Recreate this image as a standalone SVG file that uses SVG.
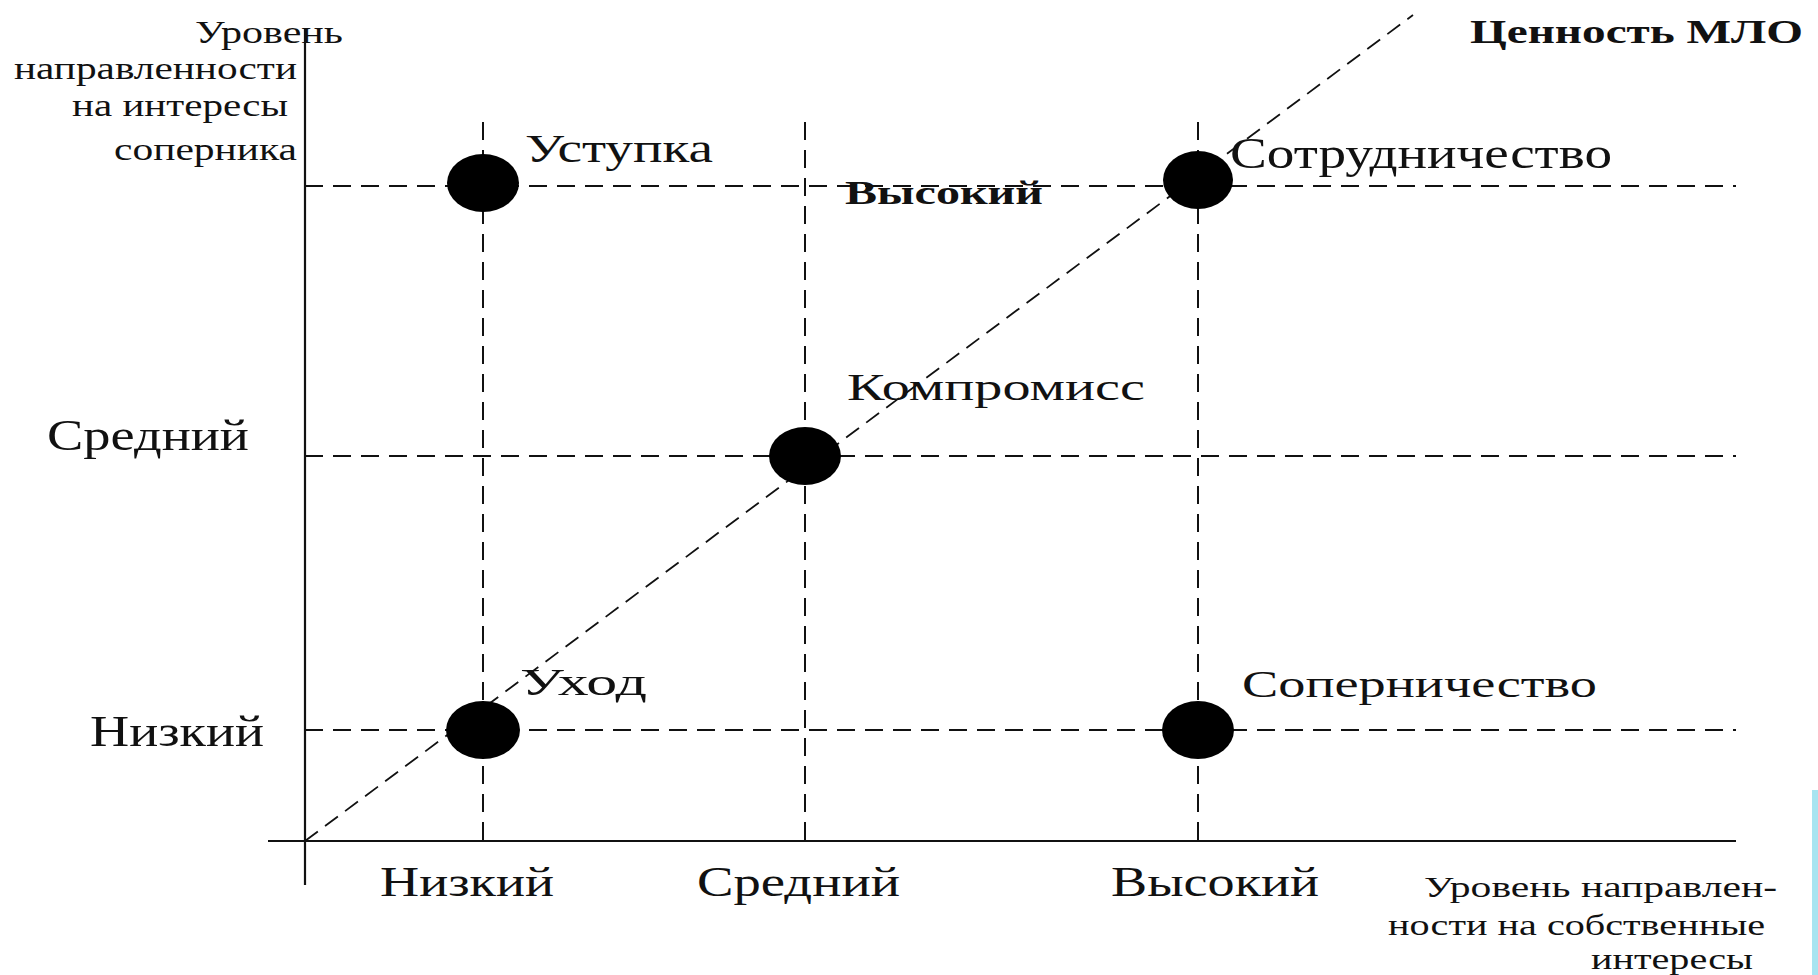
<svg xmlns="http://www.w3.org/2000/svg" width="1818" height="975" viewBox="0 0 1818 975">
<style>
.bg{fill:#ffffff}
.axis{stroke:#111;stroke-width:2.2;fill:none}
.grid{stroke:#111;stroke-width:2;stroke-dasharray:18 10;fill:none}
.diag{stroke:#111;stroke-width:1.8;stroke-dasharray:16 9;fill:none}
.dot{fill:#000}
.t{font-family:"Liberation Serif","Times New Roman",serif;fill:#111}
.b{font-weight:bold}
</style>
<rect class="bg" x="0" y="0" width="1818" height="975"/>
<rect x="1812" y="790" width="6" height="185" fill="#a8e4f0"/>
<g id="connectors">
  <line class="grid" x1="305" y1="186" x2="1736" y2="186"/>
  <line class="grid" x1="305" y1="456" x2="1736" y2="456"/>
  <line class="grid" x1="305" y1="730" x2="1736" y2="730"/>
  <line class="grid" x1="483" y1="122" x2="483" y2="840"/>
  <line class="grid" x1="805" y1="122" x2="805" y2="840"/>
  <line class="grid" x1="1198" y1="122" x2="1198" y2="840"/>
  <line class="diag" x1="305" y1="841" x2="1413" y2="15"/>
  <line class="axis" x1="305" y1="28" x2="305" y2="885"/>
  <line class="axis" x1="268" y1="841" x2="1736" y2="841"/>
</g>
<g id="axis-y-label">
  <text class="t" x="195" y="43" font-size="31" textLength="148" lengthAdjust="spacingAndGlyphs">Уровень</text>
  <text class="t" x="14" y="79" font-size="31" textLength="283" lengthAdjust="spacingAndGlyphs">направленности</text>
  <text class="t" x="72" y="116" font-size="31" textLength="216" lengthAdjust="spacingAndGlyphs">на интересы</text>
  <text class="t" x="114" y="160" font-size="31" textLength="183" lengthAdjust="spacingAndGlyphs">соперника</text>
</g>
<g id="axis-x-label">
  <text class="t" x="1424" y="897" font-size="30" textLength="353" lengthAdjust="spacingAndGlyphs">Уровень направлен-</text>
  <text class="t" x="1388" y="935" font-size="30" textLength="377" lengthAdjust="spacingAndGlyphs">ности на собственные</text>
  <text class="t" x="1591" y="969" font-size="30" textLength="162" lengthAdjust="spacingAndGlyphs">интересы</text>
</g>
<g id="title">
  <text class="t b" x="1470" y="43" font-size="33" textLength="333" lengthAdjust="spacingAndGlyphs">Ценность МЛО</text>
</g>
<g id="y-ticks">
  <text class="t" x="47" y="450" font-size="44" textLength="202" lengthAdjust="spacingAndGlyphs">Средний</text>
  <text class="t" x="90" y="746" font-size="44" textLength="174" lengthAdjust="spacingAndGlyphs">Низкий</text>
  <text class="t b" x="845" y="204" font-size="34" textLength="198" lengthAdjust="spacingAndGlyphs">Высокий</text>
</g>
<g id="x-ticks">
  <text class="t" x="380" y="896" font-size="42" textLength="174" lengthAdjust="spacingAndGlyphs">Низкий</text>
  <text class="t" x="697" y="896" font-size="42" textLength="203" lengthAdjust="spacingAndGlyphs">Средний</text>
  <text class="t" x="1111" y="896" font-size="42" textLength="208" lengthAdjust="spacingAndGlyphs">Высокий</text>
</g>
<g id="node-ustupka">
  <ellipse class="dot" cx="483" cy="183" rx="36" ry="29"/>
  <text class="t" x="525" y="162" font-size="40" textLength="188" lengthAdjust="spacingAndGlyphs">Уступка</text>
</g>
<g id="node-sotrudnichestvo">
  <ellipse class="dot" cx="1198" cy="180" rx="35" ry="29"/>
  <text class="t" x="1230" y="168" font-size="44" textLength="382" lengthAdjust="spacingAndGlyphs">Сотрудничество</text>
</g>
<g id="node-kompromiss">
  <ellipse class="dot" cx="805" cy="456" rx="36" ry="29"/>
  <text class="t" x="847" y="400" font-size="38" textLength="298" lengthAdjust="spacingAndGlyphs">Компромисс</text>
</g>
<g id="node-uhod">
  <ellipse class="dot" cx="483" cy="730" rx="37" ry="29"/>
  <text class="t" x="520" y="695" font-size="38" textLength="127" lengthAdjust="spacingAndGlyphs">Уход</text>
</g>
<g id="node-sopernichestvo">
  <ellipse class="dot" cx="1198" cy="730" rx="36" ry="29"/>
  <text class="t" x="1242" y="697" font-size="38" textLength="355" lengthAdjust="spacingAndGlyphs">Соперничество</text>
</g>
</svg>
